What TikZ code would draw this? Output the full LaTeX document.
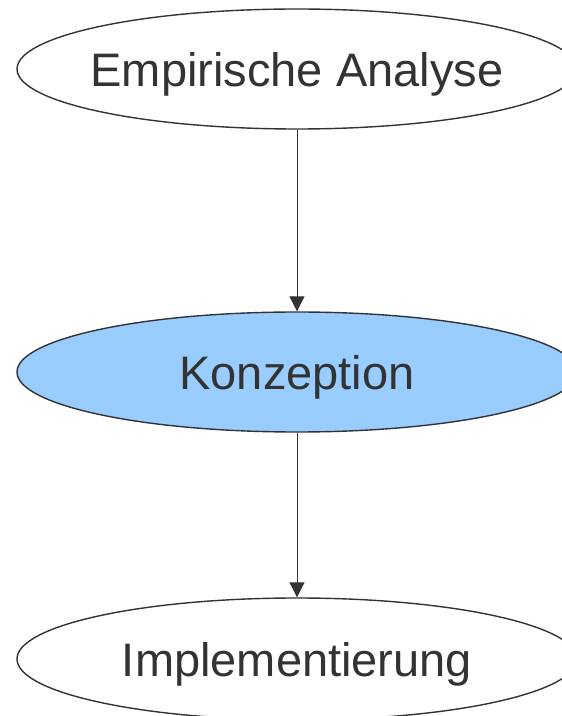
\documentclass[tikz,border=0pt]{standalone}
\usepackage{fontspec}
\setmainfont{Liberation Sans}
\usetikzlibrary{shapes.geometric,arrows.meta}
\definecolor{inkgray}{HTML}{333333}
\definecolor{phasefill}{HTML}{99CCFF}
\tikzset{
  phase/.style={ellipse, draw=inkgray, line width=1.4pt, minimum width=560pt,
    minimum height=120pt, inner xsep=-40pt, inner ysep=0pt, text=inkgray,
    text depth=0pt, font=\fontsize{47}{56}\selectfont},
  flow/.style={draw=inkgray, line width=1pt,
    -{Triangle[length=15pt,width=15pt]}}
}
\begin{document}
\begin{tikzpicture}[x=1pt,y=1pt]
  \useasboundingbox (0,0) rectangle (562,716);
  \clip (0,0) rectangle (562,716);
  \node[phase] (analyse) at (297,647) {Empirische Analyse};
  \node[phase, fill=phasefill] (konzeption) at (297,344) {Konzeption};
  \node[phase, minimum height=122pt] (impl) at (297,57) {Implementierung};
  \draw[flow] (analyse.south) -- (konzeption.north);
  \draw[flow] (konzeption.south) -- (impl.north);
\end{tikzpicture}
\end{document}
